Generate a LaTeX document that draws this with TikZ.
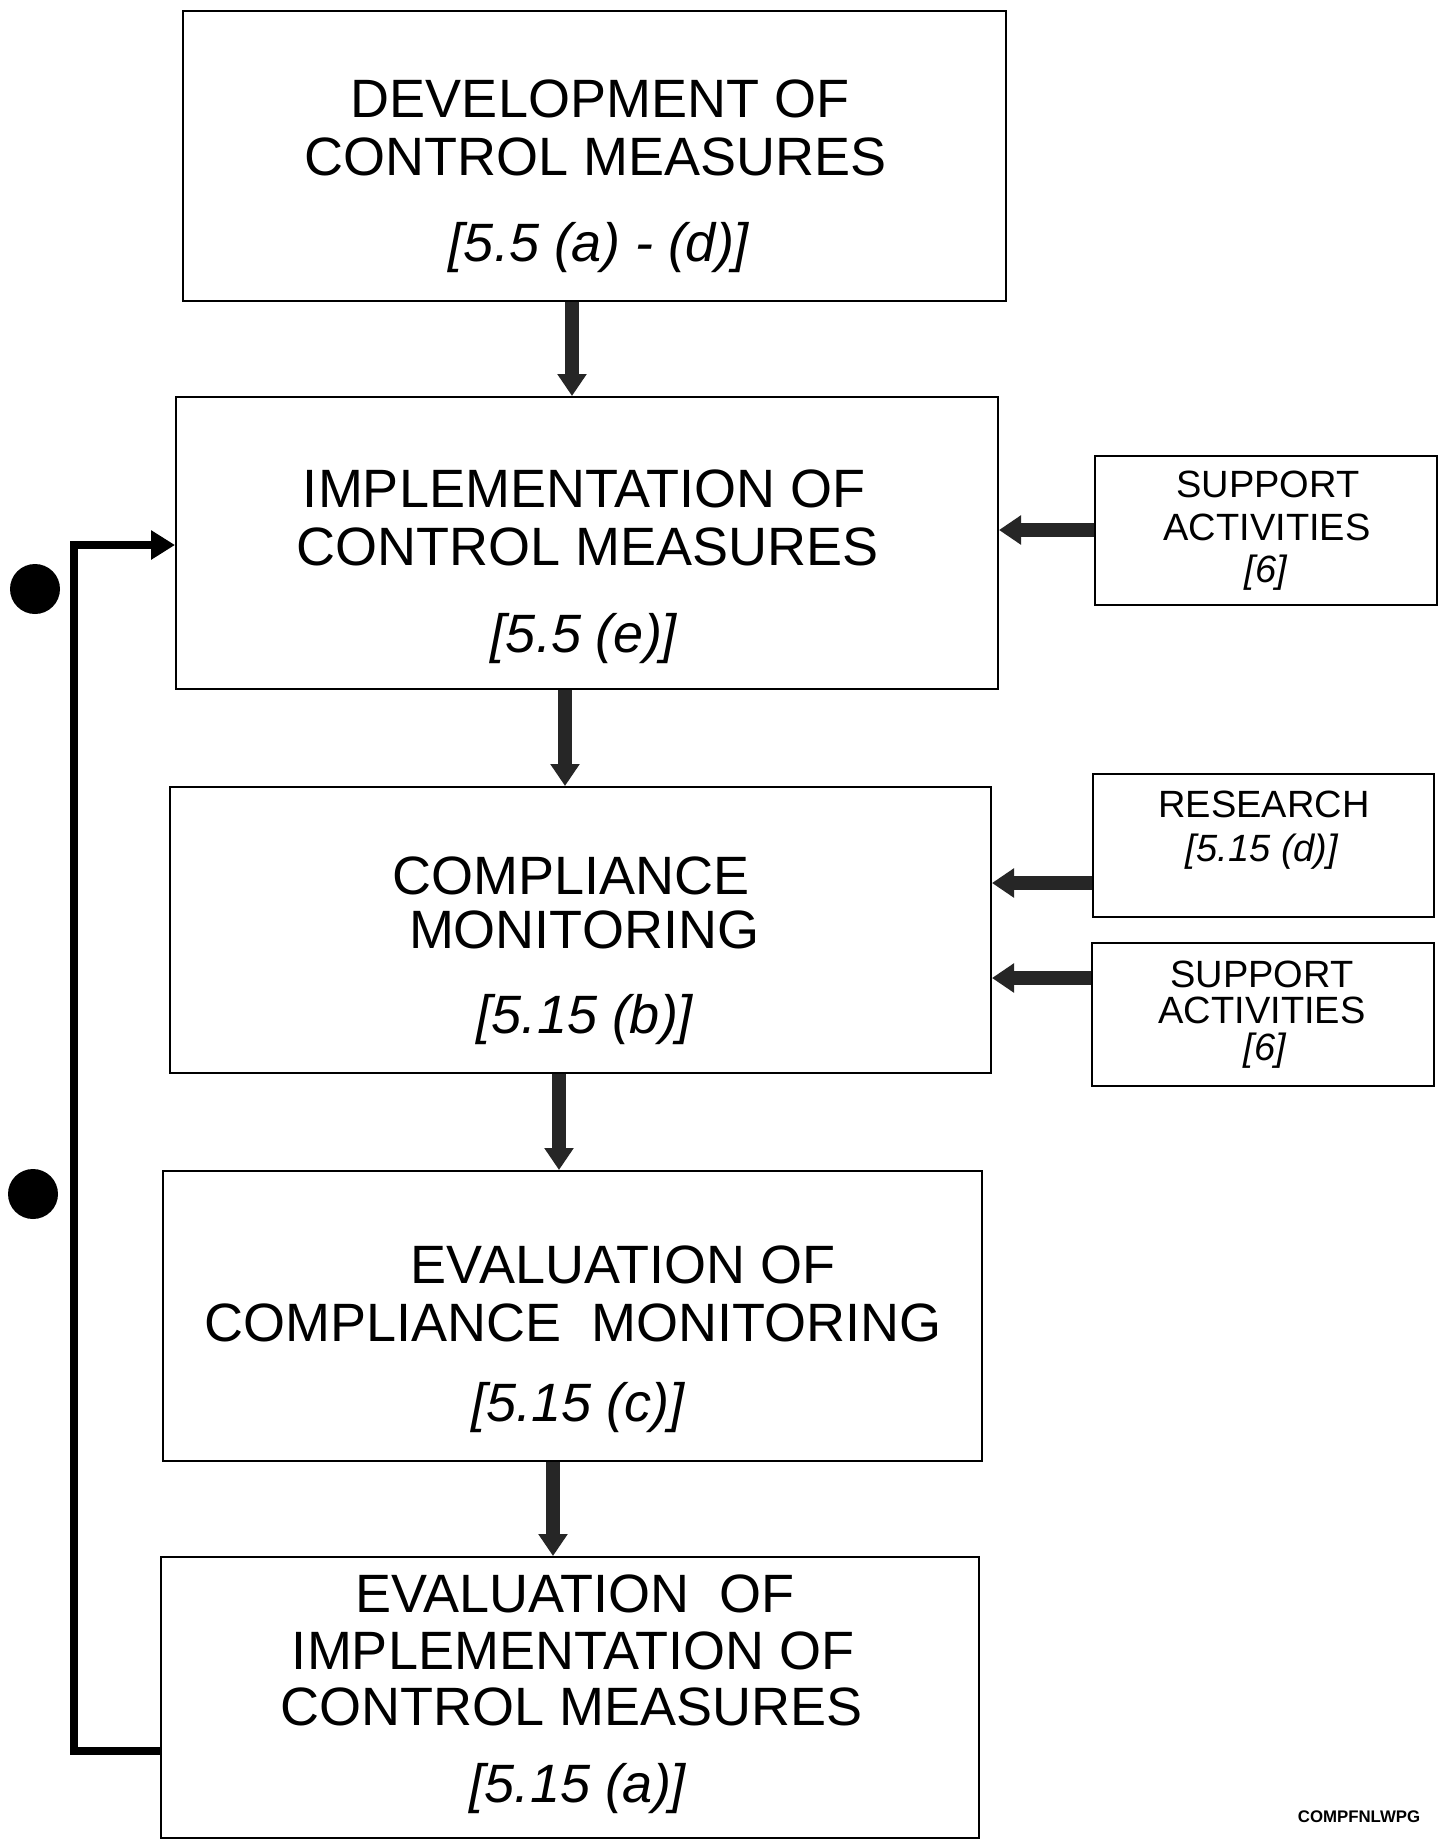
\documentclass[tikz,border=0pt]{standalone}
\usepackage{fontspec}
\setmainfont{Liberation Sans}
\usetikzlibrary{arrows.meta}
\begin{document}
\begin{tikzpicture}[x=0.5pt,y=-0.5pt,
  box/.style={draw=black, line width=1pt, inner sep=0pt, fill=none},
  big/.style={font=\fontsize{27}{29}\selectfont, inner sep=0pt, anchor=base},
  bigref/.style={font=\fontsize{27}{29}\selectfont\itshape, inner sep=0pt, anchor=base},
  small/.style={font=\fontsize{19}{20}\selectfont, inner sep=0pt, anchor=base},
  smallref/.style={font=\fontsize{19}{20}\selectfont\itshape, inner sep=0pt, anchor=base},
  blockarrow/.style={draw=black!85, line width=7pt, -{Triangle[width=14pt,length=11pt]}},
  feedline/.style={draw=black, line width=4pt, line join=miter, -{Triangle[width=14pt,length=12pt]}},
  dotmark/.style={circle, fill=black, inner sep=0pt, minimum size=25pt}
]
\useasboundingbox (0,0) rectangle (1442,1842);
\fill[white] (0,0) rectangle (1442,1842);

% main boxes
\node[box, minimum width=411.5pt, minimum height=145pt] (b1) at (594.5,156) {};
\node[box, minimum width=411pt, minimum height=146pt] (b2) at (587,543) {};
\node[box, minimum width=410.5pt, minimum height=143pt] (b3) at (580.5,930) {};
\node[box, minimum width=409.5pt, minimum height=145pt] (b4) at (572.5,1316) {};
\node[box, minimum width=409pt, minimum height=140.5pt] (b5) at (570,1697.5) {};

% side boxes
\node[box, minimum width=171pt, minimum height=74.5pt] (s1) at (1266,530.5) {};
\node[box, minimum width=170.5pt, minimum height=71.5pt] (r1) at (1263.5,845.5) {};
\node[box, minimum width=171pt, minimum height=71.5pt] (s2) at (1263,1014.5) {};

% texts box 1
\node[big] (t1a) at (600,117) {DEVELOPMENT OF};
\node[big] (t1b) at (596,175) {CONTROL MEASURES};
\node[bigref] (t1c) at (599,261) {[5.5 (a) - (d)]};
% box 2
\node[big] (t2a) at (584,507) {IMPLEMENTATION OF};
\node[big] (t2b) at (588,565) {CONTROL MEASURES};
\node[bigref] (t2c) at (584,652) {[5.5 (e)]};
% box 3
\node[big] (t3a) at (571,894) {COMPLIANCE};
\node[big] (t3b) at (584,948) {MONITORING};
\node[bigref] (t3c) at (585,1033) {[5.15 (b)]};
% box 4
\node[big] (t4a) at (623,1283) {EVALUATION OF};
\node[big] (t4b) at (573,1341) {COMPLIANCE~ MONITORING};
\node[bigref] (t4c) at (578,1421) {[5.15 (c)]};
% box 5
\node[big] (t5a) at (575,1612) {EVALUATION~ OF};
\node[big] (t5b) at (573,1669) {IMPLEMENTATION OF};
\node[big] (t5c) at (572,1725) {CONTROL MEASURES};
\node[bigref] (t5d) at (578,1802) {[5.15 (a)]};

% side texts
\node[small] (s1a) at (1268,497) {SUPPORT};
\node[small] (s1b) at (1267,540) {ACTIVITIES};
\node[smallref] (s1c) at (1266,582) {[6]};
\node[small] (r1a) at (1264,817) {RESEARCH};
\node[smallref] (r1b) at (1262,861) {[5.15 (d)]};
\node[small] (s2a) at (1262,987) {SUPPORT};
\node[small] (s2b) at (1262,1023) {ACTIVITIES};
\node[smallref] (s2c) at (1265,1060) {[6]};

% vertical arrows
\coordinate (v1) at (572,0);
\coordinate (v2) at (565,0);
\coordinate (v3) at (559,0);
\coordinate (v4) at (553,0);
\draw[blockarrow] (b1.south -| v1) -- (b2.north -| v1);
\draw[blockarrow] (b2.south -| v2) -- (b3.north -| v2);
\draw[blockarrow] (b3.south -| v3) -- (b4.north -| v3);
\draw[blockarrow] (b4.south -| v4) -- (b5.north -| v4);

% horizontal arrows
\coordinate (h1) at (0,530);
\coordinate (h2) at (0,883);
\coordinate (h3) at (0,978);
\draw[blockarrow] (s1.west |- h1) -- (b2.east |- h1);
\draw[blockarrow] (r1.west |- h2) -- (b3.east |- h2);
\draw[blockarrow] (s2.west |- h3) -- (b3.east |- h3);

% feedback loop
\coordinate (fbB) at (0,1751);
\coordinate (fbT) at (0,545);
\coordinate (fbBL) at (74,1751);
\coordinate (fbTL) at (74,545);
\draw[feedline] (b5.west |- fbB) -- (fbBL) -- (fbTL) -- (b2.west |- fbT);

% dots
\node[dotmark] (d1) at (35,589) {};
\node[dotmark] (d2) at (33,1194) {};

% file label
\node[font=\bfseries\fontsize{8.4}{9}\selectfont, inner sep=0pt, anchor=base] (lbl) at (1359,1822) {COMPFNLWPG};
\end{tikzpicture}
\end{document}
